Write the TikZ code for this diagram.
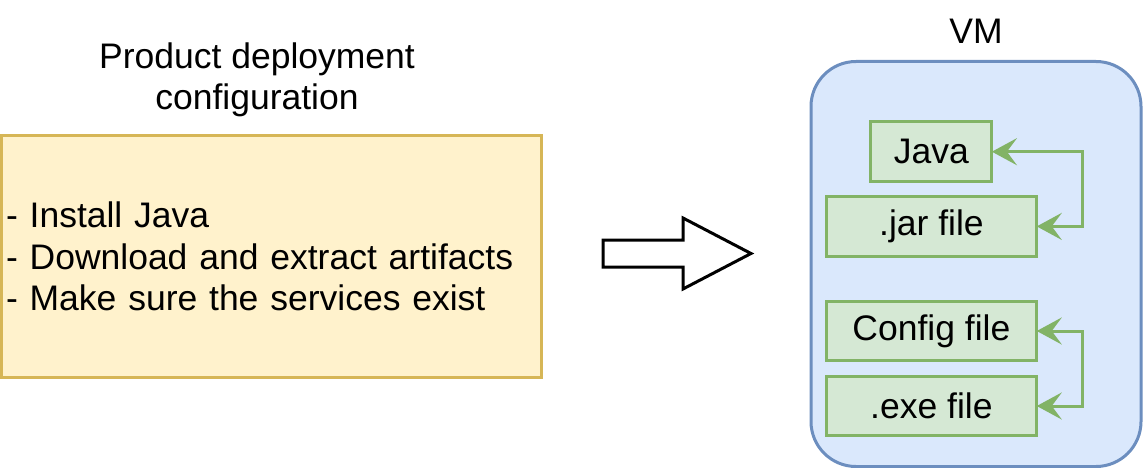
\documentclass[tikz,border=0pt]{standalone}
\usepackage{fontspec}
\setmainfont{Liberation Sans}
\usepackage{tikz}
\usetikzlibrary{arrows.meta,calc}

\definecolor{noteFill}{HTML}{FFF2CC}
\definecolor{noteLine}{HTML}{D6B656}
\definecolor{vmFill}{HTML}{DAE8FC}
\definecolor{vmLine}{HTML}{6C8EBF}
\definecolor{fileFill}{HTML}{D5E8D4}
\definecolor{fileLine}{HTML}{82B366}

\begin{document}
\begin{tikzpicture}[x=1pt,y=-1pt,
    every node/.style={font=\fontsize{35.5}{41.5}\selectfont, inner sep=0pt, outer sep=0pt},
    notebox/.style={draw=noteLine, fill=noteFill, line width=3pt},
    vmbox/.style={draw=vmLine, fill=vmFill, line width=3pt, rounded corners=45pt},
    filebox/.style={draw=fileLine, fill=fileFill, line width=3pt, minimum height=59.5pt},
    link/.style={draw=fileLine, line width=3pt,
        {Stealth[length=25pt,width=27pt,inset=10pt]}-{Stealth[length=25pt,width=27pt,inset=10pt]}}]
    \useasboundingbox (0,0) rectangle (1143,468);

    \node[align=center] (title) at (257,80) {Product deployment\\configuration};
    \node[notebox, minimum width=540, minimum height=241, text width=530, align=left]
        (steps) at (271,256.5) {- Install Java\\- Download and extract artifacts\\- Make sure the services exist};

    \draw[line width=3pt, fill=white] (603,240) -- (683,240) -- (683,218) -- (751,253.5)
        -- (683,289) -- (683,267) -- (603,267) -- cycle;

    \node[anchor=base] (vmlabel) at (976,44) {VM};
    \node[vmbox, minimum width=330, minimum height=405] (vm) at (976,264) {};

    \node[filebox, minimum width=121] (java) at (931.4,151.7) {Java};
    \node[filebox, minimum width=210.7] (jar) at (931.4,226.4) {.jar file};
    \node[filebox, minimum width=210.7] (config) at (931.4,331) {Config file};
    \node[filebox, minimum width=210.7] (exe) at (931.4,406) {.exe file};

    \coordinate (javaBend) at (1082,151.7);
    \coordinate (configBend) at (1082,331);
    \draw[link] (java.east) -- (javaBend) |- (jar.east);
    \draw[link] (config.east) -- (configBend) |- (exe.east);
\end{tikzpicture}
\end{document}
